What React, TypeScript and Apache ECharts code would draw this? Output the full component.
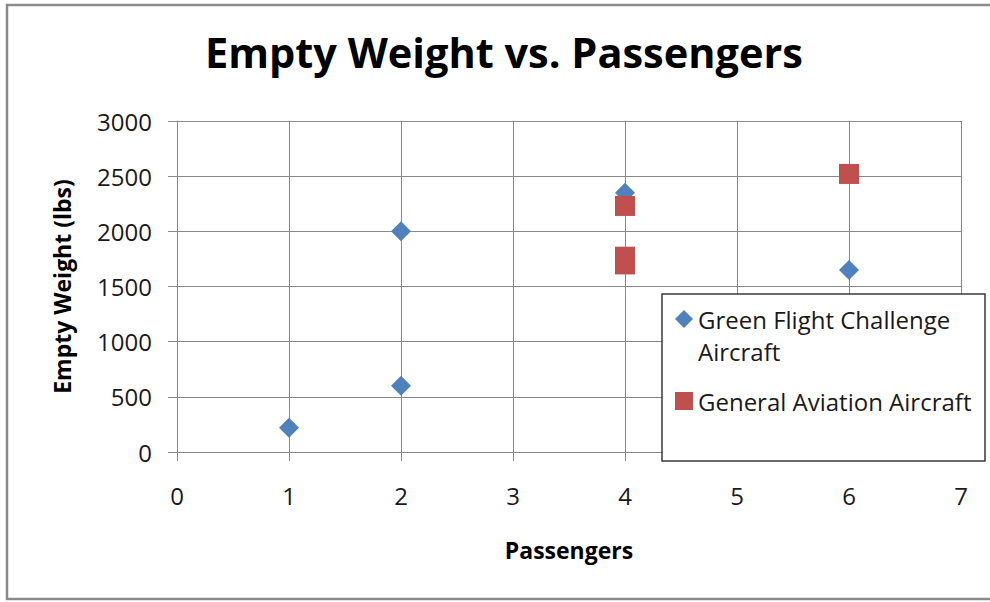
import React, { useEffect, useRef } from "react";
import * as echarts from "echarts";

const titleText = "Empty Weight vs. Passengers";
const xAxisName = "Passengers";
const yAxisName = "Empty Weight (lbs)";
const seriesNames = ["Green Flight Challenge Aircraft", "General Aviation Aircraft"];

// [passengers, empty weight (lbs)]
const greenFlightChallenge: [number, number][] = [
  [1, 220],
  [2, 600],
  [2, 2000],
  [4, 2350],
  [6, 1650],
];
const generalAviation: [number, number][] = [
  [4, 2230],
  [4, 1770],
  [4, 1700],
  [6, 2520],
];

const xMin = 0;
const xMax = 7;
const xStep = 1;
const yMin = 0;
const yMax = 3000;
const yStep = 500;

const FONT = "'Open Sans', 'Noto Sans', sans-serif";
const GRID_COLOR = "#888888";
const BLUE = "#4F81BD";
const RED = "#C0504D";

export default function App() {
  const ref = useRef<HTMLDivElement>(null);

  useEffect(() => {
    if (!ref.current) return;
    const chart = echarts.init(ref.current, undefined, { renderer: "svg" });
    const option: any = {
      animation: false,
      backgroundColor: "#ffffff",
      textStyle: { fontFamily: FONT },
      title: {
        text: titleText,
        left: 205,
        top: 31,
        padding: 0,
        textStyle: {
          fontFamily: FONT,
          fontSize: 41.5,
          fontWeight: "bold",
          color: "#000000",
        },
      },
      grid: {
        left: 177,
        right: 29,
        top: 121,
        bottom: 150,
        containLabel: false,
      },
      xAxis: {
        type: "value",
        min: xMin,
        max: xMax,
        interval: xStep,
        name: xAxisName,
        nameLocation: "middle",
        nameGap: 86,
        nameTextStyle: {
          fontFamily: FONT,
          fontSize: 23,
          fontWeight: "bold",
          color: "#000000",
        },
        axisLine: { show: true, lineStyle: { color: GRID_COLOR, width: 1 } },
        axisTick: { show: true, length: 9, lineStyle: { color: GRID_COLOR } },
        splitLine: { show: true, lineStyle: { color: GRID_COLOR, width: 1 } },
        axisLabel: {
          fontFamily: FONT,
          fontSize: 24,
          color: "#1a1a1a",
          margin: 31,
        },
      },
      yAxis: {
        type: "value",
        min: yMin,
        max: yMax,
        interval: yStep,
        name: yAxisName,
        nameLocation: "middle",
        nameGap: 104,
        nameRotate: 90,
        nameTextStyle: {
          fontFamily: FONT,
          fontSize: 23,
          fontWeight: "bold",
          color: "#000000",
        },
        axisLine: { show: true, lineStyle: { color: GRID_COLOR, width: 1 } },
        axisTick: { show: true, length: 9, lineStyle: { color: GRID_COLOR } },
        splitLine: { show: true, lineStyle: { color: GRID_COLOR, width: 1 } },
        axisLabel: {
          fontFamily: FONT,
          fontSize: 24,
          color: "#1a1a1a",
          margin: 25,
          formatter: (v: number) => String(v),
        },
      },
      legend: {
        orient: "vertical",
        left: 675,
        top: 271,
        padding: 0,
        itemWidth: 18,
        itemHeight: 18,
        itemGap: 18,
        z: 10,
        textStyle: {
          fontFamily: FONT,
          fontSize: 24,
          color: "#1a1a1a",
          lineHeight: 32,
        },
        data: [seriesNames[0], seriesNames[1]],
        formatter: (name: string) =>
          name === seriesNames[0] ? " \nGreen Flight Challenge\nAircraft" : name,
      },
      graphic: [
        {
          type: "rect",
          z: -10,
          silent: true,
          shape: { x: 7, y: 5, width: 1000, height: 594 },
          style: { fill: "none", stroke: "#8a8a8a", lineWidth: 2.5 },
        },
        {
          type: "rect",
          z: 5,
          silent: true,
          shape: { x: 662, y: 294, width: 323, height: 167 },
          style: { fill: "#ffffff", stroke: "#3a3a3a", lineWidth: 1.5 },
        },
      ],
      series: [
        {
          name: seriesNames[0],
          type: "scatter",
          symbol: "diamond",
          symbolSize: 20,
          itemStyle: { color: BLUE, opacity: 1 },
          data: greenFlightChallenge,
          z: 2,
        },
        {
          name: seriesNames[1],
          type: "scatter",
          symbol: "rect",
          symbolSize: 20,
          itemStyle: { color: RED, opacity: 1 },
          data: generalAviation,
          z: 3,
        },
      ],
    };
    chart.setOption(option);
    return () => {
      chart.dispose();
    };
  }, []);

  return (
    <div
      ref={ref}
      style={{ position: "fixed", left: 0, top: 0, width: 990, height: 602 }}
    />
  );
}
